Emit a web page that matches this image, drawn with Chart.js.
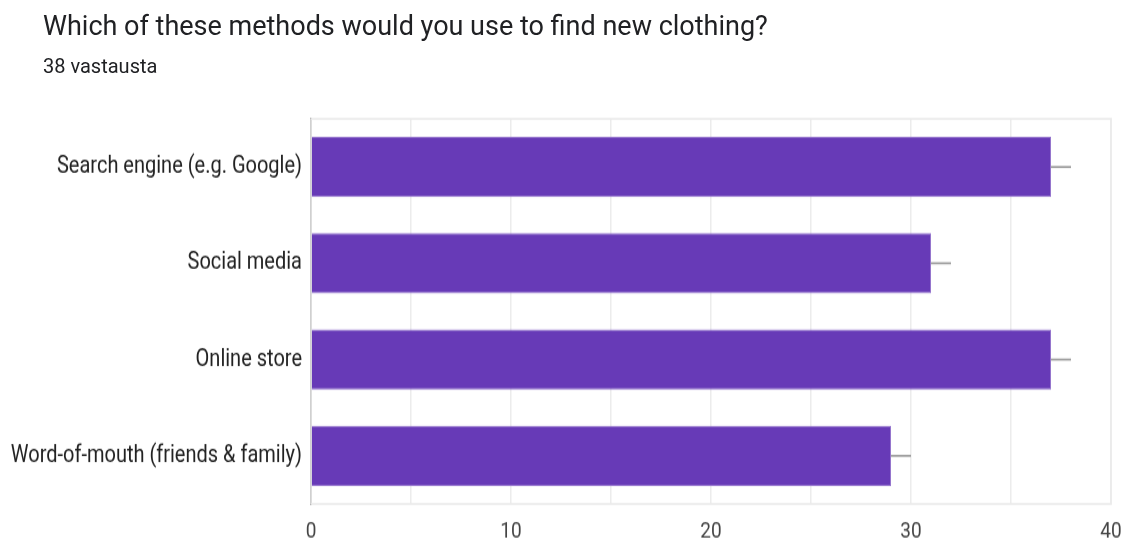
<!DOCTYPE html>
<html>
<head>
<meta charset="utf-8">
<script src="https://cdn.jsdelivr.net/npm/chart.js@4"></script>
<style>
  html, body { margin: 0; padding: 0; background: #fff; }
  #wrap { position: relative; width: 1126px; height: 540px; overflow: hidden; }
  #title { position: absolute; left: 43px; top: 10px; font-family: Roboto, sans-serif; font-size: 27px; color: #202124; white-space: nowrap; }
  #subtitle { position: absolute; left: 43px; top: 54px; font-family: Roboto, sans-serif; font-size: 20px; color: #202124; white-space: nowrap; }
  /* canvas is drawn 450 tall and stretched to 540 for the tall narrow lettering */
  #chart { position: absolute; left: 0; top: 0; width: 1126px; height: 540px; }
</style>
</head>
<body>
<div id="wrap">
  <canvas id="chart" width="1126" height="450" style="width:1126px;height:540px"></canvas>
  <div id="title">Which of these methods would you use to find new clothing?</div>
  <div id="subtitle">38 vastausta</div>
</div>
<script>
const categories = ['Search engine (e.g. Google)', 'Social media', 'Online store', 'Word-of-mouth (friends & family)'];
const counts = [37, 31, 37, 29];
const whiskerEnds = [38, 32, 38, 30];
const tickLabels = [0, 10, 20, 30, 40];

// thin grey frame round the plot area
const frame = {
    id: 'frame',
    beforeDatasetsDraw(chart) {
        const a = chart.chartArea;
        const ctx = chart.ctx;
        ctx.save();
        ctx.strokeStyle = '#ebebeb';
        ctx.lineWidth = 1.7;
        ctx.strokeRect(a.left, a.top, a.right - a.left, a.bottom - a.top);
        ctx.restore();
    }
};

// short grey line past each bar end
const whiskers = {
    id: 'whiskers',
    afterDatasetsDraw(chart) {
        const ctx = chart.ctx;
        const xs = chart.scales.x;
        const bars = chart.getDatasetMeta(0).data;
        ctx.save();
        ctx.strokeStyle = '#9e9e9e';
        ctx.lineWidth = 1.7;
        bars.forEach(function(bar, i) {
            ctx.beginPath();
            ctx.moveTo(xs.getPixelForValue(counts[i]), bar.y);
            ctx.lineTo(xs.getPixelForValue(whiskerEnds[i]), bar.y);
            ctx.stroke();
        });
        ctx.restore();
    }
};

new Chart(document.getElementById('chart').getContext('2d'), {
    type: 'bar',
    data: {
        labels: categories,
        datasets: [{
            data: counts,
            backgroundColor: '#673ab7',
            borderColor: '#9575cd',
            borderWidth: 1,
            categoryPercentage: 1,
            barPercentage: 0.625
        }]
    },
    options: {
        indexAxis: 'y',
        responsive: false,
        animation: false,
        layout: { padding: { top: 99, right: 15, left: 0, bottom: 0 } },
        plugins: {
            legend: { display: false },
            tooltip: { enabled: false }
        },
        scales: {
            x: {
                min: tickLabels[0],
                max: tickLabels[tickLabels.length - 1],
                afterFit: function(scale) {
                    scale.height = 30;
                    scale.paddingLeft = 0;
                    scale.paddingRight = 0;
                },
                grid: { color: '#ececec', lineWidth: 1.5, drawTicks: false },
                border: { display: false },
                ticks: {
                    stepSize: 5,
                    padding: 12,
                    color: '#444',
                    font: { family: 'Roboto', size: 19 },
                    callback: function(v) { return tickLabels.includes(v) ? String(v) : ''; }
                }
            },
            y: {
                afterFit: function(scale) { scale.width = 311; },
                grid: { display: false, drawTicks: false },
                border: { display: true, color: '#333', width: 1.5 },
                ticks: {
                    padding: 9,
                    color: '#222',
                    font: { family: 'Roboto', size: 20 }
                }
            }
        }
    },
    plugins: [frame, whiskers]
});
</script>
</body>
</html>
